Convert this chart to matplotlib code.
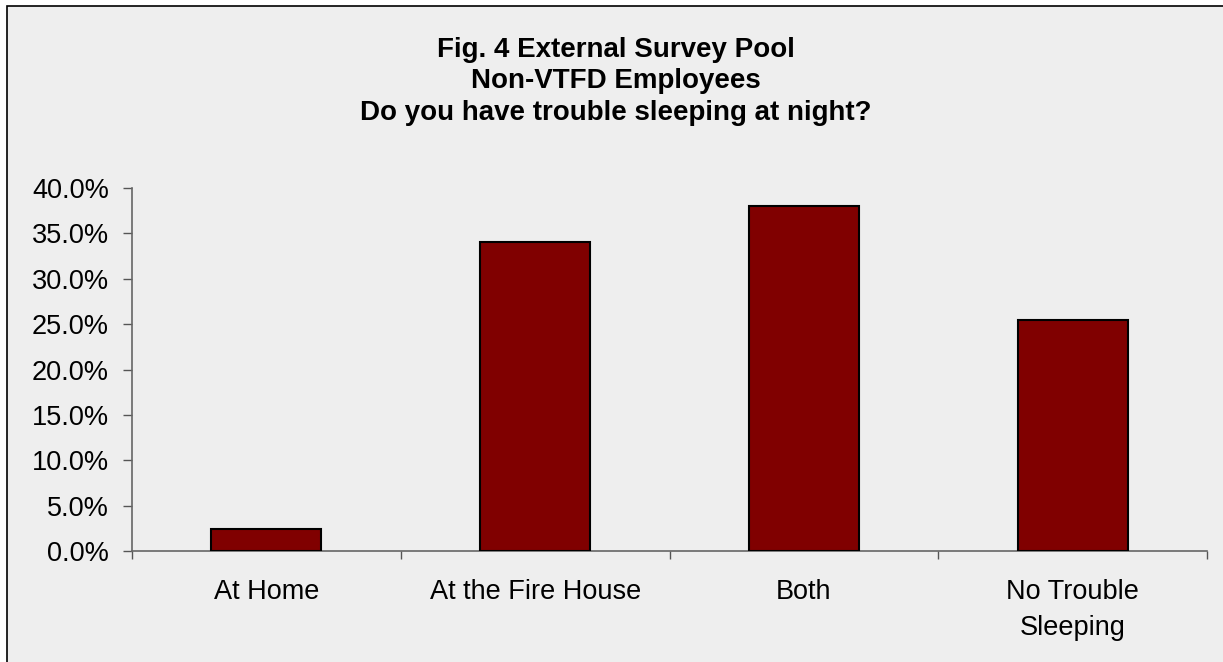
"""
Fig. 4 bar chart: trouble sleeping at night, non-VTFD employees.
"""

import numpy as np
import matplotlib
matplotlib.use("Agg")
import matplotlib.pyplot as plt
from matplotlib.patches import Rectangle
from matplotlib.ticker import FixedLocator, PercentFormatter

plt.rcParams['font.family'] = ['Liberation Sans', 'DejaVu Sans']

categories = ['At Home', 'At the Fire House', 'Both', 'No Trouble\nSleeping']
percent = [2.4, 34.1, 38.0, 25.5]
yticks = [0, 5, 10, 15, 20, 25, 30, 35, 40]
title = ('Fig. 4 External Survey Pool\nNon-VTFD Employees\n'
         'Do you have trouble sleeping at night?')

bg = '#eeeeee'
W, H = 1223, 662

fig = plt.figure(figsize=(W / 100, H / 100), dpi=100, facecolor='white')

# chart area frame, runs off the right and bottom edges
fig.patches.append(Rectangle((7 / W, -0.1), 1.2, 1 - 6 / H + 0.1,
                             transform=fig.transFigure, facecolor=bg,
                             edgecolor='black', linewidth=1.2, zorder=-1))

ax = fig.add_axes([132 / W, 1 - 551 / H, (1207 - 132) / W, (551 - 188) / H])
ax.set_facecolor(bg)

x = np.arange(len(categories))
ax.bar(x, percent, width=0.41, color='#800000', edgecolor='black',
       linewidth=1.5, zorder=3)

ax.set_xlim(-0.5, len(categories) - 0.5)
ax.set_ylim(0, 40)

ax.set_yticks(yticks)
ax.yaxis.set_major_formatter(PercentFormatter(decimals=1))
ax.tick_params(axis='y', length=6.5, width=1, color='#555555', labelsize=19.5,
               pad=10, labelcolor='black')

ax.set_xticks(x)
ax.set_xticklabels(categories)
ax.xaxis.set_minor_locator(FixedLocator(np.arange(len(categories) + 1) - 0.5))
ax.tick_params(axis='x', which='major', length=0, pad=20.5, labelsize=19.5)
ax.tick_params(axis='x', which='minor', length=6, width=1, color='#555555')
for lab in ax.get_xticklabels():
    lab.set_linespacing(1.5)

for side in ('top', 'right'):
    ax.spines[side].set_visible(False)
for side in ('left', 'bottom'):
    ax.spines[side].set_color('#666666')
    ax.spines[side].set_linewidth(1.2)

fig.text(616 / W, 1 - 37 / H, title, ha='center', va='top', fontsize=20,
         fontweight='bold', linespacing=1.27)

fig.savefig('out.png', dpi=100, facecolor=fig.get_facecolor())
